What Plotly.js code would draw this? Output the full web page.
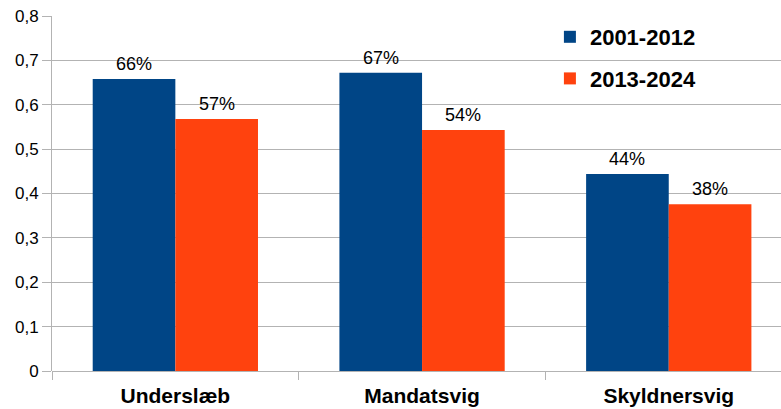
<!DOCTYPE html>
<html><head><meta charset="utf-8">
<script src="https://cdn.plot.ly/plotly-3.0.1.min.js"></script>
<style>html,body{margin:0;padding:0;background:#fff}#c{width:781px;height:409px}</style>
</head><body><div id="c"></div>
<script>
const categories = ["Underslæb", "Mandatsvig", "Skyldnersvig"];
const series1Name = "2001-2012";
const series2Name = "2013-2024";
const series1 = [0.658, 0.672, 0.444];
const series2 = [0.568, 0.543, 0.376];
const labels1 = ["66%", "67%", "44%"];
const labels2 = ["57%", "54%", "38%"];
const yTicks = [0, 0.1, 0.2, 0.3, 0.4, 0.5, 0.6, 0.7, 0.8];

const font = "Liberation Sans, Arial, sans-serif";
const W = 781, H = 409;
const margin = {l: 52, r: 0, t: 16, b: 38, pad: 0};
const xRange = [-0.5, 2.455];
const bargap = 0.33;

const traces = [
  {type: "bar", name: series1Name, x: categories, y: series1, legendgroup: "a",
   marker: {color: "#004586"}},
  {type: "bar", name: series2Name, x: categories, y: series2, legendgroup: "b",
   marker: {color: "#ff420e"}}
];

// value labels placed above each bar
const pxPerCat = (W - margin.l - margin.r) / (xRange[1] - xRange[0]);
const half = (1 - bargap) / 4 * pxPerCat;
const annotations = [];
[[series1, labels1, -half], [series2, labels2, half]].forEach(([vals, labs, dx]) => {
  vals.forEach((v, i) => annotations.push({
    x: categories[i], y: v, xref: "x", yref: "y", text: labs[i],
    showarrow: false, xanchor: "center", yanchor: "bottom",
    xshift: dx, yshift: 3,
    font: {family: font, size: 18, color: "#000"}
  }));
});

const layout = {
  width: W, height: H, margin,
  paper_bgcolor: "#fff", plot_bgcolor: "#fff",
  separators: ",.",
  barmode: "group", bargap, bargroupgap: 0,
  font: {family: font, size: 17, color: "#000"},
  showlegend: true,
  legend: {x: 0.683, y: 1.0, xanchor: "left", yanchor: "top",
    bgcolor: "rgba(0,0,0,0)", tracegroupgap: 10, traceorder: "grouped",
    font: {family: font, size: 22, color: "#000", weight: "bold"}},
  annotations,
  xaxis: {range: xRange, tickson: "boundaries", ticks: "outside",
    ticklen: 8, tickcolor: "#b3b3b3", showgrid: false, showline: false,
    zeroline: false, ticklabelstandoff: 10,
    tickfont: {family: font, size: 21, color: "#000", weight: "bold"}},
  yaxis: {range: [0, 0.8], tickvals: yTicks, ticks: "outside", ticklen: 9,
    tickcolor: "#b3b3b3", showgrid: true, gridcolor: "#b3b3b3", gridwidth: 1,
    showline: true, linecolor: "#b3b3b3", linewidth: 1, zeroline: true,
    zerolinecolor: "#b3b3b3", zerolinewidth: 1,
    tickfont: {family: font, size: 17, color: "#000"}}
};
Plotly.newPlot("c", traces, layout, {displayModeBar: false, staticPlot: true});
</script></body></html>
